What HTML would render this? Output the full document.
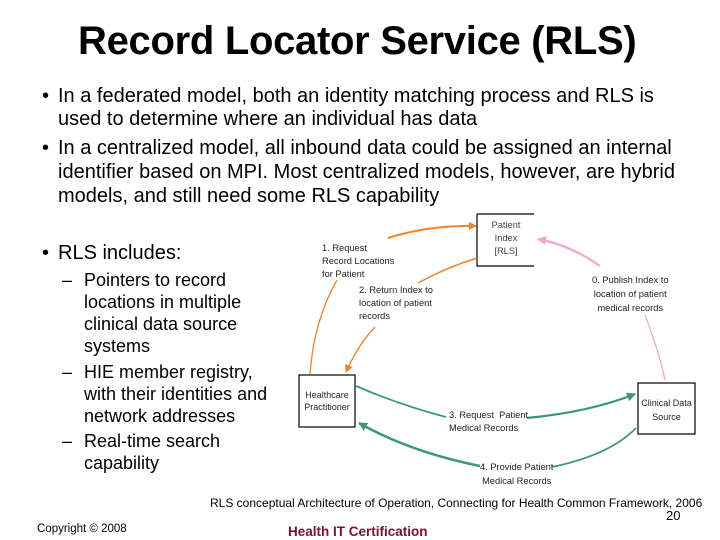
<!DOCTYPE html>
<html><head><meta charset="utf-8"><style>
body{margin:0;width:720px;height:540px;background:#fff;position:relative;overflow:hidden;font-family:"Liberation Sans",sans-serif;color:#000}
.a{position:absolute;white-space:nowrap}
.t{font-size:20px;line-height:22px}
.u{font-size:18px;line-height:22px}
.s{font-size:9.3px;line-height:12px;color:#222;font-family:"Liberation Sans",sans-serif}
</style></head><body>
<div class="a" style="left:78px;top:19px;font-size:40px;font-weight:bold;letter-spacing:-0.3px">Record Locator Service (RLS)</div>
<div class="a t" style="left:42px;top:85px">•</div>
<div class="a t" style="left:58px;top:85px">In a federated model, both an identity matching process and RLS is</div>
<div class="a t" style="left:58px;top:108px">used to determine where an individual has data</div>
<div class="a t" style="left:42px;top:137px">•</div>
<div class="a t" style="left:58px;top:137px">In a centralized model, all inbound data could be assigned an internal</div>
<div class="a t" style="left:58px;top:161px">identifier based on MPI. Most centralized models, however, are hybrid</div>
<div class="a t" style="left:58px;top:185px">models, and still need some RLS capability</div>
<div class="a t" style="left:42px;top:242px">•</div>
<div class="a t" style="left:58px;top:242px">RLS includes:</div>
<div class="a u" style="left:62px;top:269px">–</div>
<div class="a u" style="left:84px;top:269px">Pointers to record<br>locations in multiple<br>clinical data source<br>systems</div>
<div class="a u" style="left:62px;top:361px">–</div>
<div class="a u" style="left:84px;top:361px">HIE member registry,<br>with their identities and<br>network addresses</div>
<div class="a u" style="left:62px;top:430px">–</div>
<div class="a u" style="left:84px;top:430px">Real-time search<br>capability</div>

<svg class="a" style="left:0;top:0" width="720" height="540">
<defs>
<marker id="mo" markerWidth="8" markerHeight="8" refX="7" refY="4" orient="auto" markerUnits="userSpaceOnUse"><path d="M0,0L8,4L0,8z" fill="#f0822a"/></marker>
<marker id="mg" markerWidth="9" markerHeight="9" refX="8" refY="4.5" orient="auto" markerUnits="userSpaceOnUse"><path d="M0,0L9,4.5L0,9z" fill="#3a9a6e"/></marker>
<marker id="mp" markerWidth="9" markerHeight="9" refX="8" refY="4.5" orient="auto" markerUnits="userSpaceOnUse"><path d="M0,0L9,4.5L0,9z" fill="#f2a6cf"/></marker>
</defs>
<path d="M477,214H534M477,214V266H534" fill="none" stroke="#000" stroke-width="1.2"/>
<rect x="299" y="375" width="56" height="52" fill="none" stroke="#000" stroke-width="1.2"/>
<rect x="638" y="383" width="57" height="51" fill="none" stroke="#000" stroke-width="1.2"/>
<path d="M388,238Q430,225 476,226" fill="none" stroke="#f0822a" stroke-width="2" marker-end="url(#mo)"/>
<path d="M310,374Q314,320 337,280" fill="none" stroke="#f0822a" stroke-width="1.3"/>
<path d="M477,258Q445,268 418,283" fill="none" stroke="#f0822a" stroke-width="1.5"/>
<path d="M375,327Q358,345 346,372" fill="none" stroke="#f0822a" stroke-width="1.3" marker-end="url(#mo)"/>
<path d="M665,380Q660,355 645,315" fill="none" stroke="#f2a6cf" stroke-width="1.3"/>
<path d="M600,266Q570,245 538,239" fill="none" stroke="#f2a6cf" stroke-width="2.2" marker-end="url(#mp)"/>
<path d="M356,386Q400,405 446,417" fill="none" stroke="#3a9a6e" stroke-width="1.8"/>
<path d="M527,418Q590,412 635,394" fill="none" stroke="#3a9a6e" stroke-width="2.2" marker-end="url(#mg)"/>
<path d="M636,428Q610,455 552,467" fill="none" stroke="#3a9a6e" stroke-width="1.8"/>
<path d="M480,466Q410,452 359,423" fill="none" stroke="#3a9a6e" stroke-width="2.5" marker-end="url(#mg)"/>
</svg>

<div class="a s" style="left:478px;top:219px;width:56px;text-align:center;line-height:13px;color:#444">Patient<br>Index<br>[RLS]</div>
<div class="a s" style="left:299px;top:389px;width:56px;text-align:center;font-size:9px">Healthcare<br>Practitioner</div>
<div class="a s" style="left:638px;top:396px;width:57px;text-align:center;font-size:9px;line-height:14px">Clinical Data<br>Source</div>
<div class="a s" style="left:322px;top:242px;line-height:13px">1. Request<br>Record Locations<br>for Patient</div>
<div class="a s" style="left:359px;top:284px;line-height:13px">2. Return Index to<br>location of patient<br>records</div>
<div class="a s" style="left:592px;top:273px;line-height:14px;text-align:center">0. Publish Index to<br>location of patient<br>medical records</div>
<div class="a s" style="left:449px;top:409px;line-height:13px">3. Request&nbsp; Patient<br>Medical Records</div>
<div class="a s" style="left:480px;top:460px;line-height:14px;text-align:center">4. Provide Patient<br>Medical Records</div>

<div class="a" style="left:210px;top:496px;font-size:12px">RLS conceptual Architecture of Operation, Connecting for Health Common Framework, 2006</div>
<div class="a" style="left:666px;top:508px;font-size:13px">20</div>
<div class="a" style="left:37px;top:523px;font-size:11.5px">Copyright © 2008</div>
<div class="a" style="left:288px;top:524px;font-size:13.5px;font-weight:bold;color:#7a1030">Health IT Certification</div>
</body></html>
